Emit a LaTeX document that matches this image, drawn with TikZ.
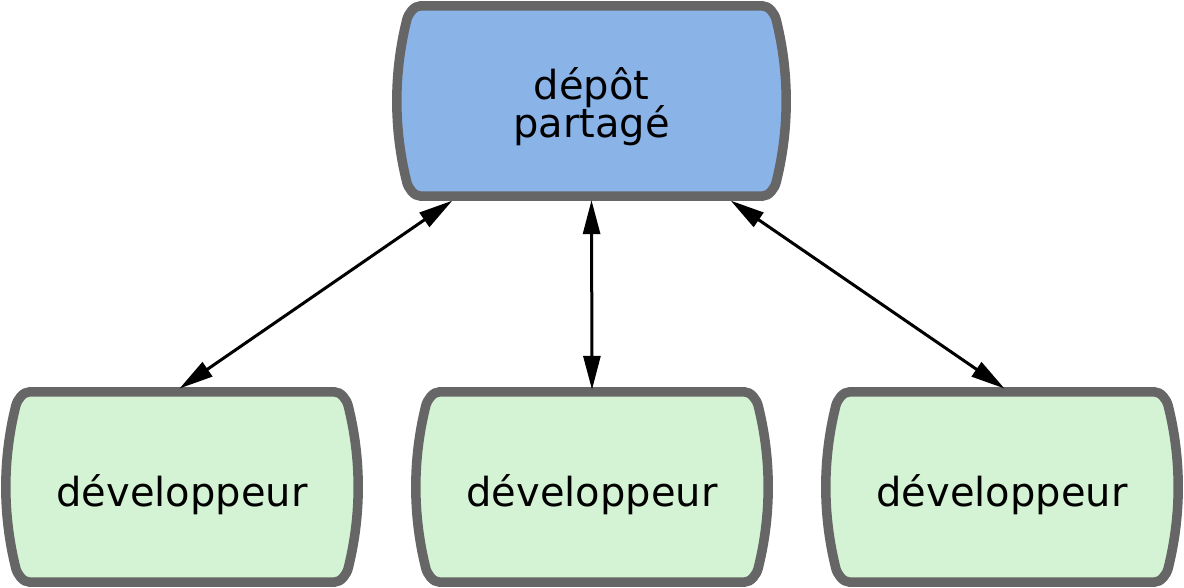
\documentclass[tikz,border=0pt]{standalone}
\usepackage{fontspec}
\setmainfont{DejaVu Sans}
\usetikzlibrary{positioning}
\usetikzlibrary{calc}
\usetikzlibrary{backgrounds}
\usetikzlibrary{arrows.meta}

\definecolor{repoblue}{RGB}{138,180,232}
\definecolor{devgreen}{RGB}{212,243,212}
\definecolor{edgegray}{RGB}{102,102,102}

\newcommand{\boxfont}{\fontsize{40pt}{38pt}\selectfont\setlength{\lineskiplimit}{-100pt}}

% flat top and bottom, sides bulging as flat arcs
\newcommand{\tapeoutline}[2]{%
  \filldraw[outline, fill=#2]
    ($(#1.north west)+(29,-5)$) -- ($(#1.north east)+(-29,-5)$)
    .. controls ($(#1.north east)+(-22,-5)$) and ($(#1.north east)+(-16.5,-13)$) .. ($(#1.north east)+(-15,-19)$)
    .. controls ($(#1.north east)+(-8.25,-46)$) and ($(#1.east)+(-5,27)$) .. ($(#1.east)+(-5,0)$)
    .. controls ($(#1.east)+(-5,-27)$) and ($(#1.south east)+(-8.25,46)$) .. ($(#1.south east)+(-15,19)$)
    .. controls ($(#1.south east)+(-16.5,13)$) and ($(#1.south east)+(-22,5)$) .. ($(#1.south east)+(-29,5)$)
    -- ($(#1.south west)+(29,5)$)
    .. controls ($(#1.south west)+(22,5)$) and ($(#1.south west)+(16.5,13)$) .. ($(#1.south west)+(15,19)$)
    .. controls ($(#1.south west)+(8.25,46)$) and ($(#1.west)+(5,-27)$) .. ($(#1.west)+(5,0)$)
    .. controls ($(#1.west)+(5,27)$) and ($(#1.north west)+(8.25,-46)$) .. ($(#1.north west)+(15,-19)$)
    .. controls ($(#1.north west)+(16.5,-13)$) and ($(#1.north west)+(22,-5)$) .. cycle;
}

\begin{document}
\begin{tikzpicture}
  [
    x=1pt, y=1pt,
    box/.style={
      inner sep=0pt,
      minimum height=200pt,
      font=\boxfont,
      align=center
    },
    repo/.style={box, minimum width=399pt, text height=74pt, text depth=0pt},
    dev/.style={box, minimum width=362pt, text height=40pt, text depth=0pt},
    outline/.style={draw=edgegray, line width=9.5pt},
    link/.style={
      {Triangle[length=34pt,width=17pt]}-{Triangle[length=34pt,width=17pt]},
      line width=3pt,
      shorten <=-1pt, shorten >=-3pt
    }
  ]
  \useasboundingbox (0,0) rectangle (1184,588);

  \node (repo) at (591.5,487) [repo] {dépôt\\partagé};
  \node (dev1) at (182,101) [dev] {développeur};
  \node (dev2) at (592,101) [dev] {développeur};
  \node (dev3) at (1002,101) [dev] {développeur};

  \begin{pgfonlayer}{background}
    \tapeoutline{repo}{repoblue}
    \tapeoutline{dev1}{devgreen}
    \tapeoutline{dev2}{devgreen}
    \tapeoutline{dev3}{devgreen}
  \end{pgfonlayer}

  \draw [link] ([xshift=-140pt]repo.south) -- (dev1.north);
  \draw [link] (repo.south) -- (dev2.north);
  \draw [link] ([xshift=140pt]repo.south) -- (dev3.north);

\end{tikzpicture}
\end{document}
